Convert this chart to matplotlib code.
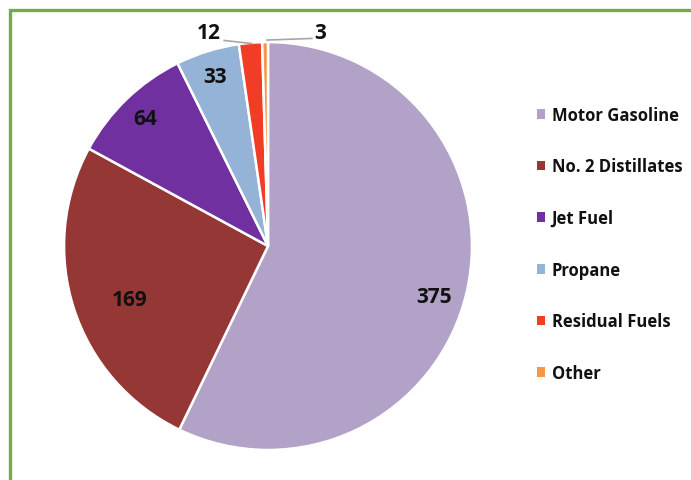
import numpy as np
import matplotlib
matplotlib.use("Agg")
import matplotlib.pyplot as plt
from matplotlib.patches import Rectangle

categories = ["Motor Gasoline", "No. 2 Distillates", "Jet Fuel", "Propane", "Residual Fuels", "Other"]
values = [375, 169, 64, 33, 12, 3]
colors = ["#B3A2C7", "#953735", "#7030A0", "#95B3D7", "#F23D26", "#F79646"]

plt.rcParams["font.family"] = ["Open Sans", "DejaVu Sans"]

fig = plt.figure(figsize=(6.91, 4.81), dpi=100)
ax = fig.add_axes([0.0926, 0.0624, 0.5905, 0.848])

wedges, _ = ax.pie(values, colors=colors, startangle=90, counterclock=False,
                   radius=1.0, wedgeprops=dict(edgecolor="white", linewidth=1.8))
ax.set_xlim(-1, 1)
ax.set_ylim(-1, 1)
ax.set_aspect("equal")
ax.axis("off")

# Inside labels: radial distance as fraction of radius, plus small angular nudge
inside = {0: (0.85, -4.0), 1: (0.73, 3.4), 2: (0.87, 0.0), 3: (0.87, 0.0)}
total = sum(values)
start = 90.0
mids = []
for v in values:
    ext = v / total * 360.0
    mids.append(start - ext / 2)
    start -= ext

lab_kw = dict(ha="center", va="center", fontsize=15, fontweight="bold", color="#111111")
for i, (r, da) in inside.items():
    a = np.deg2rad(mids[i] + da)
    ax.text(r * np.cos(a), r * np.sin(a), str(values[i]), **lab_kw)

# Outside labels with leader lines for the two small slices
outside = {4: ((-0.29, 1.045), (-0.215, 1.008), (-0.08, 0.993)),
           5: ((0.255, 1.045), (0.215, 1.018), (-0.005, 1.01))}
for i, (tpos, l0, l1) in outside.items():
    ax.plot([l0[0], l1[0]], [l0[1], l1[1]], color="#A6A6A6", lw=1.2, clip_on=False)
    ax.text(tpos[0], tpos[1], str(values[i]), clip_on=False, **lab_kw)

# Legend
handles = [Rectangle((0, 0), 1, 1, facecolor=c, edgecolor="none") for c in colors]
leg = fig.legend(handles, categories, loc="upper left", bbox_to_anchor=(0.767, 0.792),
                 frameon=False, prop=dict(family=["Open Sans", "DejaVu Sans"], weight="bold", size=12),
                 labelspacing=2.02, handlelength=0.5, handleheight=0.5, handletextpad=0.4,
                 borderaxespad=0)
for t in leg.get_texts():
    t.set_color("#111111")

# Green frame
fig.patches.append(Rectangle((9.5 / 691, -0.01), 1.0, 1 - 10.5 / 481 + 0.01,
                             transform=fig.transFigure, fill=False,
                             edgecolor="#70AD47", linewidth=2.4, clip_on=False))

fig.savefig("out.png", dpi=100, facecolor="white")
